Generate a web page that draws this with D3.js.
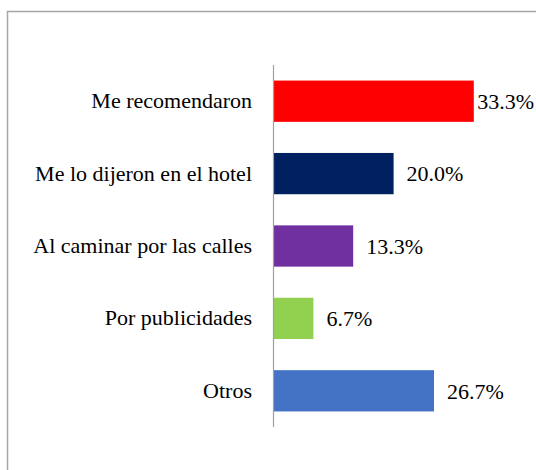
<!DOCTYPE html>
<html>
<head>
<meta charset="utf-8">
<script src="https://cdn.jsdelivr.net/npm/d3@7"></script>
<style>
  body { margin: 0; background: #fff; }
  svg { display: block; }
  .lbl { font-family: "Liberation Serif", "Times New Roman", Times, "DejaVu Serif", serif; font-size: 22px; fill: #000; }
</style>
</head>
<body>
<div id="chart-area"></div>
<script>
const WIDTH = 536
const HEIGHT = 470
const MARGIN = { LEFT: 273, RIGHT: 0, TOP: 65, BOTTOM: 43 }

// data
const categories = ["Me recomendaron", "Me lo dijeron en el hotel", "Al caminar por las calles", "Por publicidades", "Otros"]
const values = [33.3, 20.0, 13.3, 6.7, 26.7]
const colors = ["#ff0000", "#002060", "#7030a0", "#92d050", "#4472c4"]

const svg = d3.select("#chart-area").append("svg")
  .attr("width", WIDTH)
  .attr("height", HEIGHT)

// chart border (runs off the right and bottom edges)
svg.append("rect")
  .attr("x", 7.5)
  .attr("y", 11.5)
  .attr("width", 700)
  .attr("height", 700)
  .attr("fill", "none")
  .attr("stroke", "#a6a6a6")
  .attr("stroke-width", 1.5)

const g = svg.append("g")
  .attr("transform", `translate(${MARGIN.LEFT}, 0)`)

// scales
const x = d3.scaleLinear().domain([0, 100]).range([0, 603])
const y = d3.scaleBand()
  .domain(categories)
  .range([MARGIN.TOP, HEIGHT - MARGIN.BOTTOM])
  .paddingInner(0.43)
  .paddingOuter(0.215)

// bars
g.selectAll("rect.bar")
  .data(categories)
  .enter().append("rect")
  .attr("class", "bar")
  .attr("x", 0)
  .attr("y", d => y(d))
  .attr("width", (d, i) => x(values[i]))
  .attr("height", y.bandwidth())
  .attr("fill", (d, i) => colors[i])

// axis on the left, labels only
const yAxis = g.append("g")
  .call(d3.axisLeft(y).tickSize(0).tickPadding(21))
yAxis.attr("font-family", null).attr("font-size", null)
yAxis.select(".domain").remove()
yAxis.selectAll("text").attr("class", "lbl").attr("fill", null)

g.append("line")
  .attr("x1", 0.5).attr("x2", 0.5)
  .attr("y1", MARGIN.TOP).attr("y2", HEIGHT - MARGIN.BOTTOM)
  .attr("stroke", "#a0a0a0")
  .attr("stroke-width", 1.2)

// value labels
g.selectAll("text.value")
  .data(categories)
  .enter().append("text")
  .attr("class", "lbl")
  .attr("y", d => y(d) + y.bandwidth() / 2)
  .attr("dy", "0.35em")
  .text((d, i) => values[i].toFixed(1) + "%")
  .attr("x", function (d, i) {
    const w = this.getComputedTextLength()
    const maxX = WIDTH - MARGIN.LEFT - 2 - w
    return Math.min(x(values[i]) + 13, Math.max(x(values[i]), maxX))
  })
</script>
</body>
</html>
